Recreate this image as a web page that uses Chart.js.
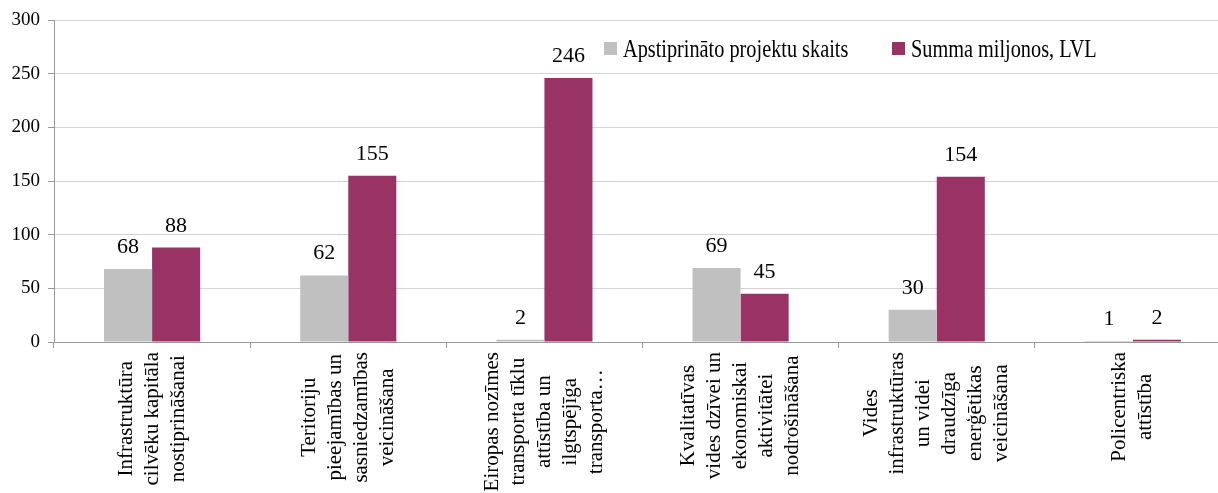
<!DOCTYPE html>
<html>
<head>
<meta charset="utf-8">
<script src="https://cdn.jsdelivr.net/npm/chart.js@4/dist/chart.umd.min.js"></script>
<style>
  html, body { margin: 0; padding: 0; background: #fff; overflow: hidden; }
  #wrap { position: relative; width: 1232px; height: 493px; }
</style>
</head>
<body>
<div id="wrap"><canvas id="projChart"></canvas></div>
<script>
// Category labels, one array of lines per category
const categories = [
  ["Infrastruktūra", "cilvēku kapitāla", "nostiprināšanai"],
  ["Teritoriju", "pieejamības un", "sasniedzamības", "veicināšana"],
  ["Eiropas nozīmes", "transporta tīklu", "attīstība un", "ilgtspējīga", "transporta…"],
  ["Kvalitatīvas", "vides dzīvei un", "ekonomiskai", "aktivitātei", "nodrošināšana"],
  ["Vides", "infrastruktūras", "un videi", "draudzīga", "enerģētikas", "veicināšana"],
  ["Policentriska", "attīstība"]
];
const seriesNames = ["Apstiprināto projektu skaits", "Summa miljonos, LVL"];
const projectCounts = [68, 62, 2, 69, 30, 1];
const sumsMillions = [88, 155, 246, 45, 154, 2];
const yTicks = [0, 50, 100, 150, 200, 250, 300];

const FONT = "'Liberation Serif', 'Times New Roman', serif";
const GRAY = '#C0C0C0';
const MAROON = '#993366';

// value labels above every bar
const barValues = {
  id: 'barValues',
  afterDatasetsDraw(chart) {
    const ctx = chart.ctx;
    ctx.save();
    ctx.font = '22px ' + FONT;
    ctx.fillStyle = '#000';
    ctx.textAlign = 'center';
    ctx.textBaseline = 'alphabetic';
    chart.data.datasets.forEach((ds, di) => {
      chart.getDatasetMeta(di).data.forEach((bar, i) => {
        ctx.fillText(String(ds.data[i]), bar.x, bar.y - 16);
      });
    });
    ctx.restore();
  }
};

// vertical multi-line category labels: block starts just under the axis,
// each line centred inside the block
const catLabels = {
  id: 'catLabels',
  afterDraw(chart) {
    const ctx = chart.ctx;
    const xs = chart.scales.x;
    const lineGap = 26;
    const top = chart.chartArea.bottom + 10;
    ctx.save();
    ctx.font = '21px ' + FONT;
    ctx.fillStyle = '#000';
    ctx.textAlign = 'center';
    ctx.textBaseline = 'middle';
    categories.forEach((lines, i) => {
      const cx = xs.getPixelForValue(i);
      const longest = Math.max(...lines.map(l => ctx.measureText(l).width));
      const midY = top + longest / 2;
      lines.forEach((line, j) => {
        const x = cx + (j - (lines.length - 1) / 2) * lineGap;
        ctx.save();
        ctx.translate(x, midY);
        ctx.rotate(-Math.PI / 2);
        ctx.fillText(line, 0, 0);
        ctx.restore();
      });
    });
    ctx.restore();
  }
};

// legend drawn inside the plot, top right (narrowed type)
const innerLegend = {
  id: 'innerLegend',
  afterDraw(chart) {
    const ctx = chart.ctx;
    const entries = [
      { x: 604, color: GRAY, text: seriesNames[0] },
      { x: 892, color: MAROON, text: seriesNames[1] }
    ];
    ctx.save();
    ctx.font = '26px ' + FONT;
    ctx.textBaseline = 'alphabetic';
    ctx.textAlign = 'left';
    entries.forEach(e => {
      ctx.fillStyle = e.color;
      ctx.fillRect(e.x, 42, 13, 13);
      ctx.fillStyle = '#000';
      ctx.save();
      ctx.translate(e.x + 19, 57);
      ctx.scale(0.78, 1);
      ctx.fillText(e.text, 0, 0);
      ctx.restore();
    });
    ctx.restore();
  }
};

new Chart(document.getElementById('projChart'), {
  type: 'bar',
  data: {
    labels: categories.map(c => c.join(' ')),
    datasets: [
      { label: seriesNames[0], data: projectCounts, backgroundColor: GRAY },
      { label: seriesNames[1], data: sumsMillions, backgroundColor: MAROON }
    ]
  },
  options: {
    responsive: true,
    maintainAspectRatio: false,
    animation: false,
    events: [],
    layout: { padding: { top: 20, right: 1, bottom: 0, left: 0 } },
    datasets: { bar: { categoryPercentage: 0.49, barPercentage: 1.0 } },
    plugins: { legend: { display: false }, tooltip: { enabled: false } },
    scales: {
      x: {
        offset: true,
        ticks: { display: false },
        grid: { display: true, drawOnChartArea: false, drawTicks: true, tickLength: 6, color: '#999' },
        border: { color: '#999' },
        afterFit(scale) { scale.height = 151; }
      },
      y: {
        min: 0,
        max: 300,
        afterBuildTicks(scale) { scale.ticks = yTicks.map(v => ({ value: v })); },
        ticks: { color: '#000', font: { family: FONT, size: 19 }, padding: 8 },
        grid: { color: '#d4d4d4', tickLength: 6, tickColor: '#999' },
        border: { color: '#999' },
        afterFit(scale) { scale.width = 54; }
      }
    }
  },
  plugins: [barValues, catLabels, innerLegend]
});
</script>
</body>
</html>
